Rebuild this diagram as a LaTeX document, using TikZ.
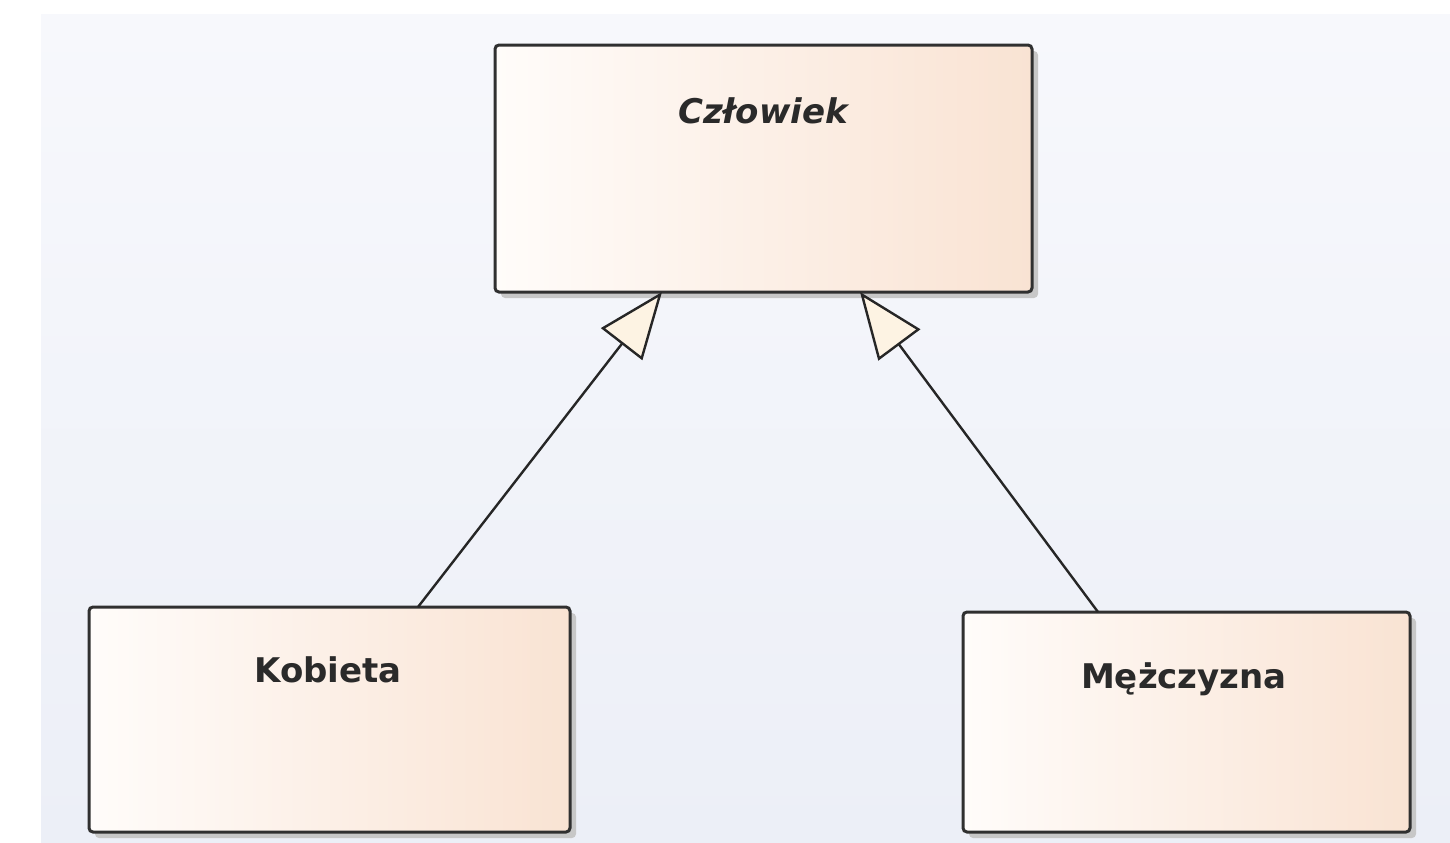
\documentclass[tikz,border=0pt]{standalone}
\usepackage{fontspec}
\setmainfont{DejaVu Sans}
\usetikzlibrary{arrows.meta,shadows,calc}

\definecolor{canvastop}{HTML}{F7F8FC}
\definecolor{canvasbot}{HTML}{ECEFF7}
\definecolor{boxleft}{HTML}{FFFCFA}
\definecolor{boxright}{HTML}{F9E3D3}
\definecolor{boxline}{HTML}{303030}
\definecolor{tipfill}{HTML}{FDF3E3}
\definecolor{labeltext}{HTML}{2A2A2A}

\tikzset{
  classbox/.style={
    draw=boxline, line width=1.5pt, rounded corners=2pt,
    left color=boxleft, right color=boxright,
    drop shadow={shadow xshift=3pt, shadow yshift=-3pt, fill=black!22, opacity=1},
    inner sep=0pt, outer sep=0pt
  },
  classname/.style={anchor=base, text=labeltext, font=\fontsize{17}{20}\selectfont\bfseries, inner sep=0pt},
  generalization/.style={
    draw=black!85, line width=1.2pt,
    -{Triangle[length=33pt, width=26pt, fill=tipfill]}
  }
}

\begin{document}
\begin{tikzpicture}[x=0.5pt, y=-0.5pt]
  % canvas
  \useasboundingbox (0,0) rectangle (1450,842);
  \shade[top color=canvastop, bottom color=canvasbot] (41,14) rectangle (1450,842);

  % classes
  \node[classbox, minimum width=268.5pt, minimum height=123.5pt] (human) at (763.5,168.5) {};
  \node[classbox, minimum width=240.5pt, minimum height=112.5pt] (woman) at (329.5,719.5) {};
  \node[classbox, minimum width=223.5pt, minimum height=110pt] (man) at (1186.5,722) {};

  \node[classname, font=\fontsize{17}{20}\selectfont\bfseries\itshape] (humanname) at (763,123) {Człowiek};
  \node[classname] (womanname) at (328,682) {Kobieta};
  \node[classname] (manname) at (1184,688) {Mężczyzna};

  % inheritance
  \draw[generalization] ($(woman.north west)+(329,0)$) -- ($(human.south west)+(167,0)$);
  \draw[generalization] ($(man.north west)+(135,0)$) -- ($(human.south west)+(365,0)$);
\end{tikzpicture}
\end{document}
